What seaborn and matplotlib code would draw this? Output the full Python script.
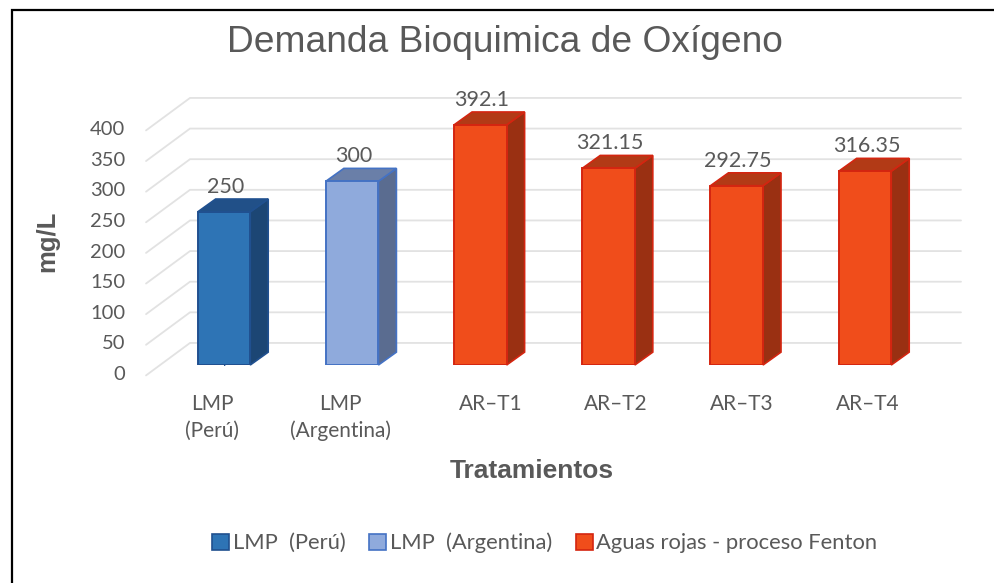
import matplotlib
matplotlib.use("Agg")
import matplotlib.pyplot as plt
import matplotlib.transforms as mtransforms
import pandas as pd
import seaborn as sns
from matplotlib.lines import Line2D
from matplotlib.patches import Polygon

# DATA
categorias = ["LMP\n(Perú)", "LMP\n(Argentina)", "AR–T1", "AR–T2", "AR–T3", "AR–T4"]
valores = [250, 300, 392.1, 321.15, 292.75, 316.35]
etiquetas = ["250", "300", "392.1", "321.15", "292.75", "316.35"]
grupos = ["LMP  (Perú)", "LMP  (Argentina)", "Aguas rojas - proceso Fenton",
          "Aguas rojas - proceso Fenton", "Aguas rojas - proceso Fenton",
          "Aguas rojas - proceso Fenton"]
ticks_y = [0, 50, 100, 150, 200, 250, 300, 350, 400]

# STYLES per group: front, side, top, edge
colores = {
    "LMP  (Perú)": ("#2E74B5", "#1C4674", "#215088", "#20508F"),
    "LMP  (Argentina)": ("#8FAADC", "#5A6C90", "#6A7FA8", "#4472C4"),
    "Aguas rojas - proceso Fenton": ("#F04D1B", "#9A3012", "#B23A16", "#D42510"),
}
GRIS = "#595959"
GRID = "#E2E2E2"
FUENTE = ["Lato", "DejaVu Sans"]
TITULO = ["Liberation Sans", "DejaVu Sans"]
desp_x_etiquetas = [-12, -12, 10, 7, 5, 3]  # px, category labels are not centred under the bars

# fake 3D depth, in data units
PROF_X = 0.14
PROF_Y = 21


def dibujar_paredes(ax, x_frente, x_fondo, x_fin):
    for v in ticks_y:
        ax.plot([x_frente, x_fondo, x_fin], [v - 17, v + 36, v + 36], color=GRID,
                lw=1.3, clip_on=False, zorder=1, solid_joinstyle="miter")


def dibujar_caras(ax):
    for barra in ax.patches[:]:
        x0 = barra.get_x()
        x1 = x0 + barra.get_width()
        h = barra.get_height()
        grupo = grupos[round(x0 + barra.get_width() / 2)]
        frente, c_lado, c_techo, borde = colores[grupo]
        barra.set_edgecolor(borde)
        barra.set_linewidth(1.4)
        barra.set_zorder(4)
        lado = [(x1, 0), (x1 + PROF_X, PROF_Y), (x1 + PROF_X, h + PROF_Y), (x1, h)]
        techo = [(x0, h), (x0 + PROF_X, h + PROF_Y), (x1 + PROF_X, h + PROF_Y), (x1, h)]
        ax.add_patch(Polygon(lado, closed=True, fc=c_lado, ec=borde, lw=1.2, zorder=3, clip_on=False))
        ax.add_patch(Polygon(techo, closed=True, fc=c_techo, ec=borde, lw=1.2, zorder=3, clip_on=False))


def main():
    sns.set_theme(style="white")
    plt.rcParams["font.family"] = FUENTE
    df = pd.DataFrame({"categoria": categorias, "valor": valores, "grupo": grupos})

    fig = plt.figure(figsize=(9.94, 5.83), dpi=100)
    ax = fig.add_axes([190 / 994, (583 - 365) / 583, (961 - 190) / 994, 245 / 583])

    paleta = {k: v[0] for k, v in colores.items()}
    sns.barplot(data=df, x="categoria", y="valor", hue="grupo", palette=paleta, errorbar=None,
                dodge=False, width=0.41, saturation=1, ax=ax, legend=True)

    ax.set_xlim(-0.265, 5.749)
    ax.set_ylim(0, 400)
    sns.despine(ax=ax, left=True, bottom=True, top=True, right=True)

    dibujar_caras(ax)
    dibujar_paredes(ax, -0.608, -0.265, 5.749)

    # data labels
    for i, v in enumerate(valores):
        ax.annotate(etiquetas[i], (i, v), xytext=(1, 18), textcoords="offset points",
                    ha="center", va="center", fontsize=15.5, color=GRIS, zorder=6, annotation_clip=False)

    # y ticks sit below the floor line of the back wall
    ax.set_yticks(ticks_y)
    ax.tick_params(axis="y", length=0, pad=46.8, labelsize=14.5, labelcolor=GRIS)
    baja = mtransforms.ScaledTranslation(0, -8 / 100, fig.dpi_scale_trans)
    for t in ax.get_yticklabels():
        t.set_transform(t.get_transform() + baja)

    ax.set_xticks(range(len(categorias)))
    ax.set_xticklabels(categorias, linespacing=1.4)
    ax.tick_params(axis="x", length=0, pad=21, labelsize=15, labelcolor=GRIS)
    for t, d in zip(ax.get_xticklabels(), desp_x_etiquetas):
        t.set_transform(t.get_transform() + mtransforms.ScaledTranslation(d / 100, 0, fig.dpi_scale_trans))

    ax.set_xlabel("")
    ax.set_ylabel("")
    fig.text(505 / 994, 1 - 52 / 583, "Demanda Bioquimica de Oxígeno", ha="center", va="baseline",
             fontsize=26.7, color=GRIS, family=TITULO)
    fig.text(532 / 994, 1 - 478 / 583, "Tratamientos", ha="center", va="baseline",
             fontsize=19, fontweight="bold", color=GRIS, family=TITULO)
    fig.text(47 / 994, 1 - 241 / 583, "mg/L", ha="center", va="center", rotation=90,
             fontsize=18.5, fontweight="bold", color=GRIS, family=TITULO)

    # legend from the seaborn handles
    sns.move_legend(ax, "center", bbox_to_anchor=(545 / 994, 1 - 543 / 583), bbox_transform=fig.transFigure,
                    ncol=3, title=None, frameon=False, fontsize=15.8, handlelength=0.75, handleheight=0.75,
                    handletextpad=0.18, columnspacing=1.09, labelcolor=GRIS)
    leg = ax.get_legend()
    for h, txt in zip(leg.legend_handles, leg.get_texts()):
        h.set_edgecolor(colores[txt.get_text()][3])
        h.set_linewidth(1.2)

    # screenshot frame, only left and top show
    fig.add_artist(Line2D([11.5 / 994, 11.5 / 994, 1], [0, 1 - 10 / 583, 1 - 10 / 583],
                          color="black", lw=1.6, solid_joinstyle="miter"))

    fig.savefig("out.png", dpi=100)


if __name__ == "__main__":
    main()
